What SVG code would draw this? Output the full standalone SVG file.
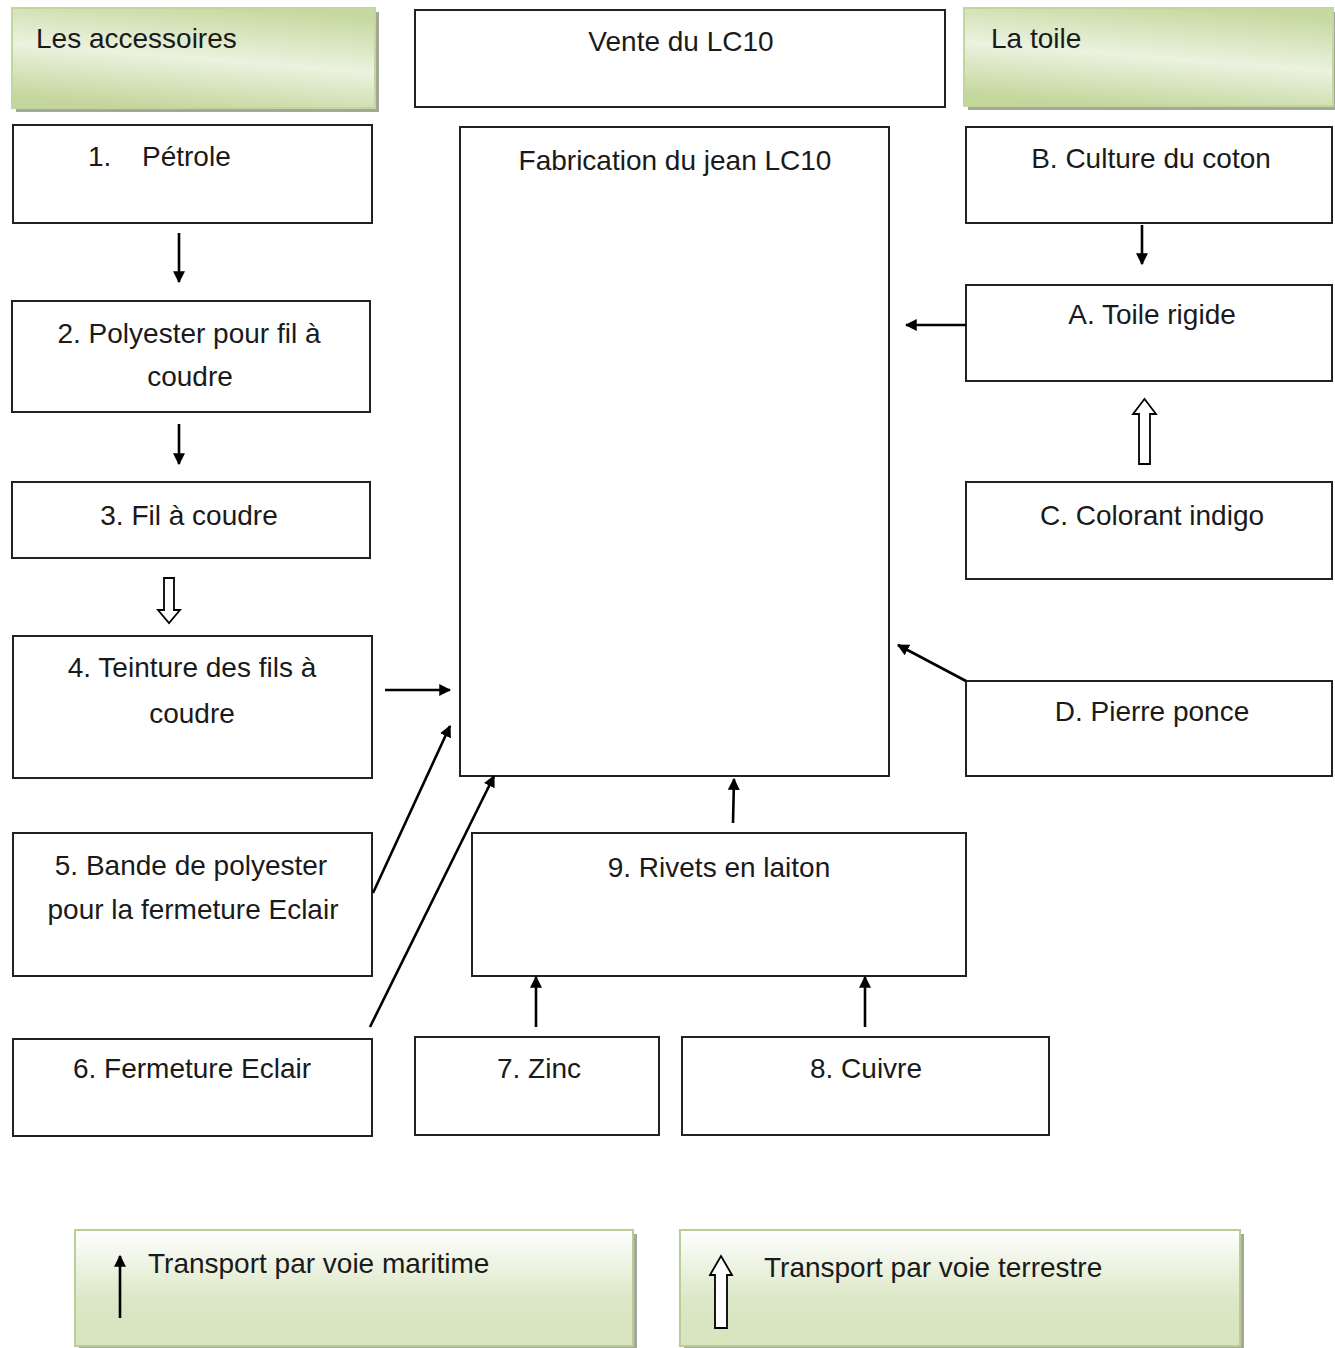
<svg xmlns="http://www.w3.org/2000/svg" width="1335" height="1348" viewBox="0 0 1335 1348">
<style>
text{font-family:"Liberation Sans",Arial,sans-serif;font-size:28px;fill:#1a1a1a}
.c{text-anchor:middle}
.box{fill:#fff;stroke:#222;stroke-width:2}
.g{fill:url(#gd);stroke:#c3d69b;stroke-width:2}
.lg{fill:url(#gv);stroke:#b9cd96;stroke-width:2}
.sh{fill:#a3a89a}
.ln{stroke:#000;stroke-width:2.6;fill:none;marker-end:url(#ah)}
.ho{fill:#fff;stroke:#000;stroke-width:1.8;stroke-linejoin:miter}
</style>
<defs>
<linearGradient id="gd" x1="0.65" y1="0" x2="0.35" y2="1">
<stop offset="0" stop-color="#c6d9a0"/>
<stop offset="0.5" stop-color="#ebf2df"/>
<stop offset="1" stop-color="#c3d69b"/>
</linearGradient>
<linearGradient id="gv" x1="0" y1="0" x2="0" y2="1">
<stop offset="0" stop-color="#ffffff"/>
<stop offset="0.6" stop-color="#dce7c6"/>
<stop offset="1" stop-color="#d7e4bd"/>
</linearGradient>
<marker id="ah" viewBox="0 0 10 10" refX="9" refY="5" markerWidth="4.6" markerHeight="4.6" orient="auto" markerUnits="strokeWidth">
<path d="M0,0 L10,5 L0,10 z" fill="#000"/>
</marker>
</defs>

<g id="accessoires">
<rect class="sh" x="16" y="12" width="363" height="100"/>
<rect class="g" x="12" y="8" width="363" height="100"/>
<text x="36" y="48">Les accessoires</text>
</g>
<g id="vente">
<rect class="box" x="415" y="10" width="530" height="97"/>
<text class="c" x="681" y="51">Vente du LC10</text>
</g>
<g id="toile">
<rect class="sh" x="968" y="12" width="369" height="98"/>
<rect class="g" x="964" y="8" width="369" height="98"/>
<text x="991" y="48">La toile</text>
</g>

<g id="n1">
<rect class="box" x="13" y="125" width="359" height="98"/>
<text x="88" y="166">1.</text>
<text x="142" y="166">Pétrole</text>
</g>
<g id="n2">
<rect class="box" x="12" y="301" width="358" height="111"/>
<text class="c" x="189" y="343">2. Polyester pour fil à</text>
<text class="c" x="190" y="386">coudre</text>
</g>
<g id="n3">
<rect class="box" x="12" y="482" width="358" height="76"/>
<text class="c" x="189" y="525">3. Fil à coudre</text>
</g>
<g id="n4">
<rect class="box" x="13" y="636" width="359" height="142"/>
<text class="c" x="192" y="677">4. Teinture des fils à</text>
<text class="c" x="192" y="723">coudre</text>
</g>
<g id="n5">
<rect class="box" x="13" y="833" width="359" height="143"/>
<text class="c" x="191" y="875">5. Bande de polyester</text>
<text class="c" x="193" y="919">pour la fermeture Eclair</text>
</g>
<g id="n6">
<rect class="box" x="13" y="1039" width="359" height="97"/>
<text class="c" x="192" y="1078">6. Fermeture Eclair</text>
</g>
<g id="fabrication">
<rect class="box" x="460" y="127" width="429" height="649"/>
<text class="c" x="675" y="170">Fabrication du jean LC10</text>
</g>
<g id="n9">
<rect class="box" x="472" y="833" width="494" height="143"/>
<text class="c" x="719" y="877">9. Rivets en laiton</text>
</g>
<g id="n7">
<rect class="box" x="415" y="1037" width="244" height="98"/>
<text class="c" x="539" y="1078">7. Zinc</text>
</g>
<g id="n8">
<rect class="box" x="682" y="1037" width="367" height="98"/>
<text class="c" x="866" y="1078">8. Cuivre</text>
</g>
<g id="nB">
<rect class="box" x="966" y="127" width="366" height="96"/>
<text class="c" x="1151" y="168">B. Culture du coton</text>
</g>
<g id="nA">
<rect class="box" x="966" y="285" width="366" height="96"/>
<text class="c" x="1152" y="324">A. Toile rigide</text>
</g>
<g id="nC">
<rect class="box" x="966" y="482" width="366" height="97"/>
<text class="c" x="1152" y="525">C. Colorant indigo</text>
</g>
<g id="nD">
<rect class="box" x="966" y="681" width="366" height="95"/>
<text class="c" x="1152" y="721">D. Pierre ponce</text>
</g>

<g id="connectors">
<line class="ln" x1="179" y1="233" x2="179" y2="282"/>
<line class="ln" x1="179" y1="424" x2="179" y2="464"/>
<path class="ho" d="M164,578 L174,578 L174,610 L180,610 L169,623 L158,610 L164,610 Z"/>
<line class="ln" x1="385" y1="690" x2="450" y2="690"/>
<line class="ln" x1="373" y1="893" x2="450" y2="726"/>
<line class="ln" x1="370" y1="1027" x2="494" y2="776"/>
<line class="ln" x1="733" y1="823" x2="734" y2="779"/>
<line class="ln" x1="536" y1="1027" x2="536" y2="977"/>
<line class="ln" x1="865" y1="1027" x2="865" y2="977"/>
<line class="ln" x1="1142" y1="225" x2="1142" y2="264"/>
<line class="ln" x1="966" y1="325" x2="906" y2="325"/>
<path class="ho" d="M1139,464 L1150,464 L1150,414 L1156,414 L1144.5,399 L1133,414 L1139,414 Z"/>
<line class="ln" x1="966" y1="681" x2="898" y2="645"/>
</g>

<g id="legend-maritime">
<rect class="sh" x="79" y="1234" width="558" height="114"/>
<rect class="lg" x="75" y="1230" width="558" height="116"/>
<line class="ln" x1="120" y1="1318" x2="120" y2="1256"/>
<text x="148" y="1273">Transport par voie maritime</text>
</g>
<g id="legend-terrestre">
<rect class="sh" x="684" y="1234" width="560" height="114"/>
<rect class="lg" x="680" y="1230" width="560" height="116"/>
<path class="ho" d="M715,1328 L727,1328 L727,1275 L732,1275 L721,1256 L710,1275 L715,1275 Z"/>
<text x="764" y="1277">Transport par voie terrestre</text>
</g>
</svg>
